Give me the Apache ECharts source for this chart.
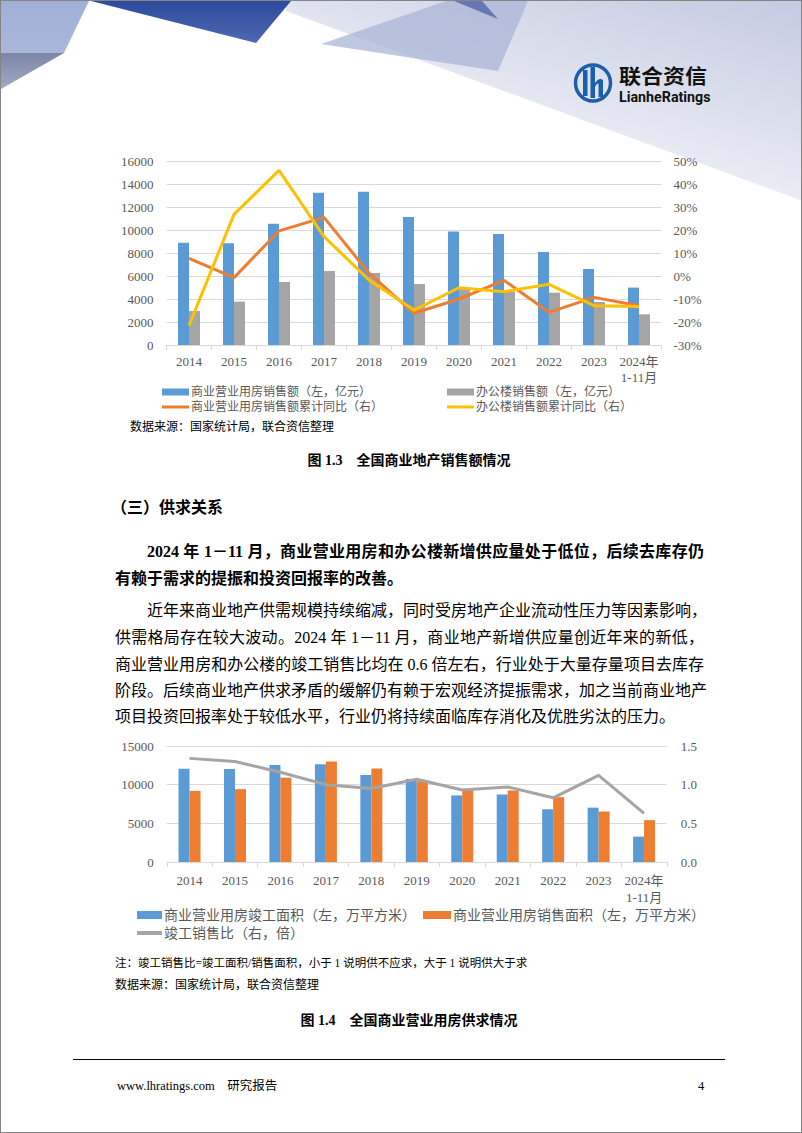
<!DOCTYPE html>
<html><head><meta charset="utf-8">
<script src="https://cdn.jsdelivr.net/npm/echarts@6/dist/echarts.min.js"></script>
<style>
html,body{margin:0;padding:0;background:#fff;}
#page{position:relative;width:802px;height:1133px;overflow:hidden;box-sizing:border-box;border:1px solid #858585;background:#fff;}
.t{position:absolute;white-space:nowrap;font-family:"Liberation Serif","Noto Sans CJK SC",serif;color:#000;}
.p{font-size:16px;line-height:20px;height:20px;}
.j{text-align:justify;text-align-last:justify;}
.b{font-weight:bold;}
#chart{position:absolute;left:0;top:0;width:802px;height:1133px;}
</style></head>
<body><div id="page">
<svg width="802" height="220" style="position:absolute;left:0;top:0">
<defs>
<linearGradient id="gR" x1="1" y1="0" x2="0.3" y2="1"><stop offset="0" stop-color="#c4cbe1"/><stop offset="0.75" stop-color="#eef0f6"/><stop offset="1" stop-color="#ffffff"/></linearGradient>
<linearGradient id="gD" x1="0" y1="0" x2="0" y2="1"><stop offset="0" stop-color="#2d4a9c"/><stop offset="1" stop-color="#4e68b0"/></linearGradient>
<linearGradient id="gL" x1="0" y1="0" x2="0" y2="1"><stop offset="0" stop-color="#9fb0d8"/><stop offset="1" stop-color="#aab7da"/></linearGradient>
<linearGradient id="gG" x1="0" y1="0" x2="0" y2="1"><stop offset="0" stop-color="#7c86a8"/><stop offset="1" stop-color="#a2a9c0"/></linearGradient>
</defs>
<polygon points="285,0 802,0 802,200 285,10" fill="url(#gR)"/>
<polygon points="320,43 445,0 527,0 497,70" fill="#a9b5d5" opacity="0.75"/>
<polygon points="453,0 481,0 497,18" fill="#6577b4"/>
<polygon points="90,0 290,0 255,42" fill="url(#gD)"/>
<polygon points="0,0 88,0 63,52 0,52" fill="url(#gL)"/>
<polygon points="0,52 63,52 0,88" fill="url(#gG)"/>
<ellipse cx="592" cy="82" rx="17.5" ry="18" fill="none" stroke="#1d5eac" stroke-width="3.5"/>
<rect x="582" y="69" width="4.5" height="26" fill="#1d5eac"/>
<rect x="589.5" y="66" width="4.5" height="31" fill="#1d5eac"/>
<path d="M594 82 Q598 76 602 79 L602 96 L597.5 96 L597.5 83 Q596 81 594 86 Z" fill="#1d5eac"/>
</svg>
<div class="t b" style="left:618px;top:65px;font-size:20px;line-height:20px;font-family:'Noto Sans CJK SC';color:#111;transform:scaleX(1.1);transform-origin:0 0;">联合资信</div>
<div class="t b" style="left:618px;top:89px;font-size:15px;line-height:14px;font-family:Roboto,'Liberation Sans';color:#111;transform:scaleX(0.95);transform-origin:0 0;">LianheRatings</div>

<div class="t" style="left:129px;top:418px;font-size:12px;line-height:16px;">数据来源：国家统计局，联合资信整理</div>
<div class="t b" style="left:113px;width:590px;text-align:center;top:451px;font-size:14px;line-height:18px;">图 1.3　全国商业地产销售额情况</div>

<div class="t p b" style="left:110px;top:497px;">（三）供求关系</div>
<div class="t p b j" style="left:146px;width:557px;top:541px;">2024 年 1－11 月，商业营业用房和办公楼新增供应量处于低位，后续去库存仍</div>
<div class="t p b" style="left:114px;top:568px;">有赖于需求的提振和投资回报率的改善。</div>
<div class="t p j" style="left:146px;width:557px;top:600px;">近年来商业地产供需规模持续缩减，同时受房地产企业流动性压力等因素影响，</div>
<div class="t p j" style="left:114px;width:589px;top:627px;">供需格局存在较大波动。2024 年 1－11 月，商业地产新增供应量创近年来的新低，</div>
<div class="t p j" style="left:114px;width:589px;top:654px;">商业营业用房和办公楼的竣工销售比均在 0.6 倍左右，行业处于大量存量项目去库存</div>
<div class="t p j" style="left:114px;width:589px;top:680px;">阶段。后续商业地产供求矛盾的缓解仍有赖于宏观经济提振需求，加之当前商业地产</div>
<div class="t p" style="left:114px;top:706px;">项目投资回报率处于较低水平，行业仍将持续面临库存消化及优胜劣汰的压力。</div>

<div class="t" style="left:114px;top:954px;font-size:11.5px;line-height:16px;">注：竣工销售比=竣工面积/销售面积，小于 1 说明供不应求，大于 1 说明供大于求</div>
<div class="t" style="left:114px;top:976px;font-size:12px;line-height:16px;">数据来源：国家统计局，联合资信整理</div>
<div class="t b" style="left:113px;width:590px;text-align:center;top:1011px;font-size:14px;line-height:18px;">图 1.4　全国商业营业用房供求情况</div>

<div style="position:absolute;left:72px;top:1058px;width:652px;height:1px;background:#000;"></div>
<div class="t" style="left:116px;top:1077px;font-size:12.5px;line-height:16px;">www.lhratings.com　研究报告</div>
<div class="t" style="left:697px;top:1077px;font-size:12.5px;line-height:16px;">4</div>

<div id="chart"></div>
</div>
<script>
// ---- Chart 1: 全国商业地产销售额情况 ----
const years1 = ['2014','2015','2016','2017','2018','2019','2020','2021','2022','2023','2024年\n1-11月'];
const commSales = [8900, 8840, 10550, 13250, 13330, 11130, 9860, 9650, 8090, 6610, 4990];
const officeSales = [2960, 3770, 5480, 6430, 6260, 5300, 4950, 4640, 4550, 3740, 2670];
const commYoY = [7.7, -0.7, 19.6, 25.5, 1.2, -16.2, -10.0, -1.9, -15.8, -9.3, -12.9];
const officeYoY = [-21.6, 26.8, 45.9, 17.1, -1.7, -14.8, -5.1, -6.8, -3.6, -12.9, -13.3];
const names1 = ['商业营业用房销售额（左，亿元）','办公楼销售额（左，亿元）','商业营业用房销售额累计同比（右）','办公楼销售额累计同比（右）'];

// ---- Chart 2: 全国商业营业用房供求情况 ----
const years2 = ['2014','2015','2016','2017','2018','2019','2020','2021','2022','2023','2024年\n1-11月'];
const completedArea = [12060, 12015, 12530, 12650, 11250, 10740, 8610, 8735, 6820, 7030, 3280];
const soldArea = [9200, 9420, 10910, 13000, 12100, 10440, 9460, 9250, 8390, 6520, 5410];
const compSaleRatio = [1.34, 1.30, 1.16, 1.00, 0.95, 1.07, 0.93, 0.97, 0.83, 1.12, 0.63];
const names2 = ['商业营业用房竣工面积（左，万平方米）','商业营业用房销售面积（左，万平方米）','竣工销售比（右，倍）'];

const C = {blue:'#5B9BD5', gray:'#A5A5A5', orange:'#ED7D31', yellow:'#FFC000'};
const axisFont = {color:'#595959', fontSize:13, fontFamily:'Liberation Serif, Noto Sans CJK SC'};
const gridLine = {lineStyle:{color:'#d9d9d9', width:1}};
const plain = v => String(v);

function lg(name, left, top, w, h, fs){
  return {data:[name], left:left, top:top, itemWidth:w, itemHeight:h, icon:'rect', selectedMode:false,
    padding:0, itemGap:0, textStyle:{color:'#595959', fontSize:fs, fontFamily:'Liberation Serif, Noto Sans CJK SC', padding:[0,0,0,-3]}};
}

const chart = echarts.init(document.getElementById('chart'), null, {renderer:'svg'});
chart.setOption({
  animation:false,
  backgroundColor:'transparent',
  grid:[
    {left:165.5, top:160, width:495, height:184},
    {left:165.8, top:745, width:500, height:116}
  ],
  legend:[
    lg(names1[0], 161, 385, 27, 7, 12),
    lg(names1[1], 446, 385, 27, 7, 12),
    lg(names1[2], 161, 400, 27, 3, 12),
    lg(names1[3], 446, 400, 27, 3, 12),
    lg(names2[0], 136, 907, 25, 8, 14),
    lg(names2[1], 422, 907, 28, 8, 14),
    lg(names2[2], 136, 925, 25, 4, 14)
  ],
  xAxis:[
    {type:'category', gridIndex:0, data:years1,
      axisLine:{lineStyle:{color:'#d9d9d9'}}, axisTick:{show:true, length:5, lineStyle:{color:'#d9d9d9'}},
      axisLabel:Object.assign({margin:8, lineHeight:16, interval:0}, axisFont)},
    {type:'category', gridIndex:1, data:years2,
      axisLine:{lineStyle:{color:'#d9d9d9'}}, axisTick:{show:true, length:5, lineStyle:{color:'#d9d9d9'}},
      axisLabel:Object.assign({margin:10, lineHeight:17, interval:0}, axisFont)}
  ],
  yAxis:[
    {type:'value', gridIndex:0, min:0, max:16000, interval:2000, splitLine:gridLine,
      axisLine:{show:false}, axisTick:{show:false}, axisLabel:Object.assign({margin:13, formatter:plain}, axisFont)},
    {type:'value', gridIndex:0, min:-30, max:50, interval:10, splitLine:{show:false},
      axisLine:{show:false}, axisTick:{show:false}, axisLabel:Object.assign({margin:12, formatter:'{value}%'}, axisFont)},
    {type:'value', gridIndex:1, min:0, max:15000, interval:5000, splitLine:gridLine,
      axisLine:{show:false}, axisTick:{show:false}, axisLabel:Object.assign({margin:13, formatter:plain}, axisFont)},
    {type:'value', gridIndex:1, min:0, max:1.5, interval:0.5, splitLine:{show:false},
      axisLine:{show:false}, axisTick:{show:false}, axisLabel:Object.assign({margin:14, formatter:v=>v.toFixed(1)}, axisFont)}
  ],
  series:[
    {name:names1[0], type:'bar', xAxisIndex:0, yAxisIndex:0, data:commSales, barWidth:11, barGap:'0%', itemStyle:{color:C.blue}},
    {name:names1[1], type:'bar', xAxisIndex:0, yAxisIndex:0, data:officeSales, barWidth:11, barGap:'0%', itemStyle:{color:C.gray}},
    {name:names1[2], type:'line', xAxisIndex:0, yAxisIndex:1, data:commYoY, symbol:'none', lineStyle:{color:C.orange, width:3}, itemStyle:{color:C.orange}},
    {name:names1[3], type:'line', xAxisIndex:0, yAxisIndex:1, data:officeYoY, symbol:'none', lineStyle:{color:C.yellow, width:3}, itemStyle:{color:C.yellow}},
    {name:names2[0], type:'bar', xAxisIndex:1, yAxisIndex:2, data:completedArea, barWidth:11, barGap:'0%', itemStyle:{color:C.blue}},
    {name:names2[1], type:'bar', xAxisIndex:1, yAxisIndex:2, data:soldArea, barWidth:11, barGap:'0%', itemStyle:{color:C.orange}},
    {name:names2[2], type:'line', xAxisIndex:1, yAxisIndex:3, data:compSaleRatio, symbol:'none', lineStyle:{color:C.gray, width:3}, itemStyle:{color:C.gray}}
  ]
});
</script>
</body></html>
